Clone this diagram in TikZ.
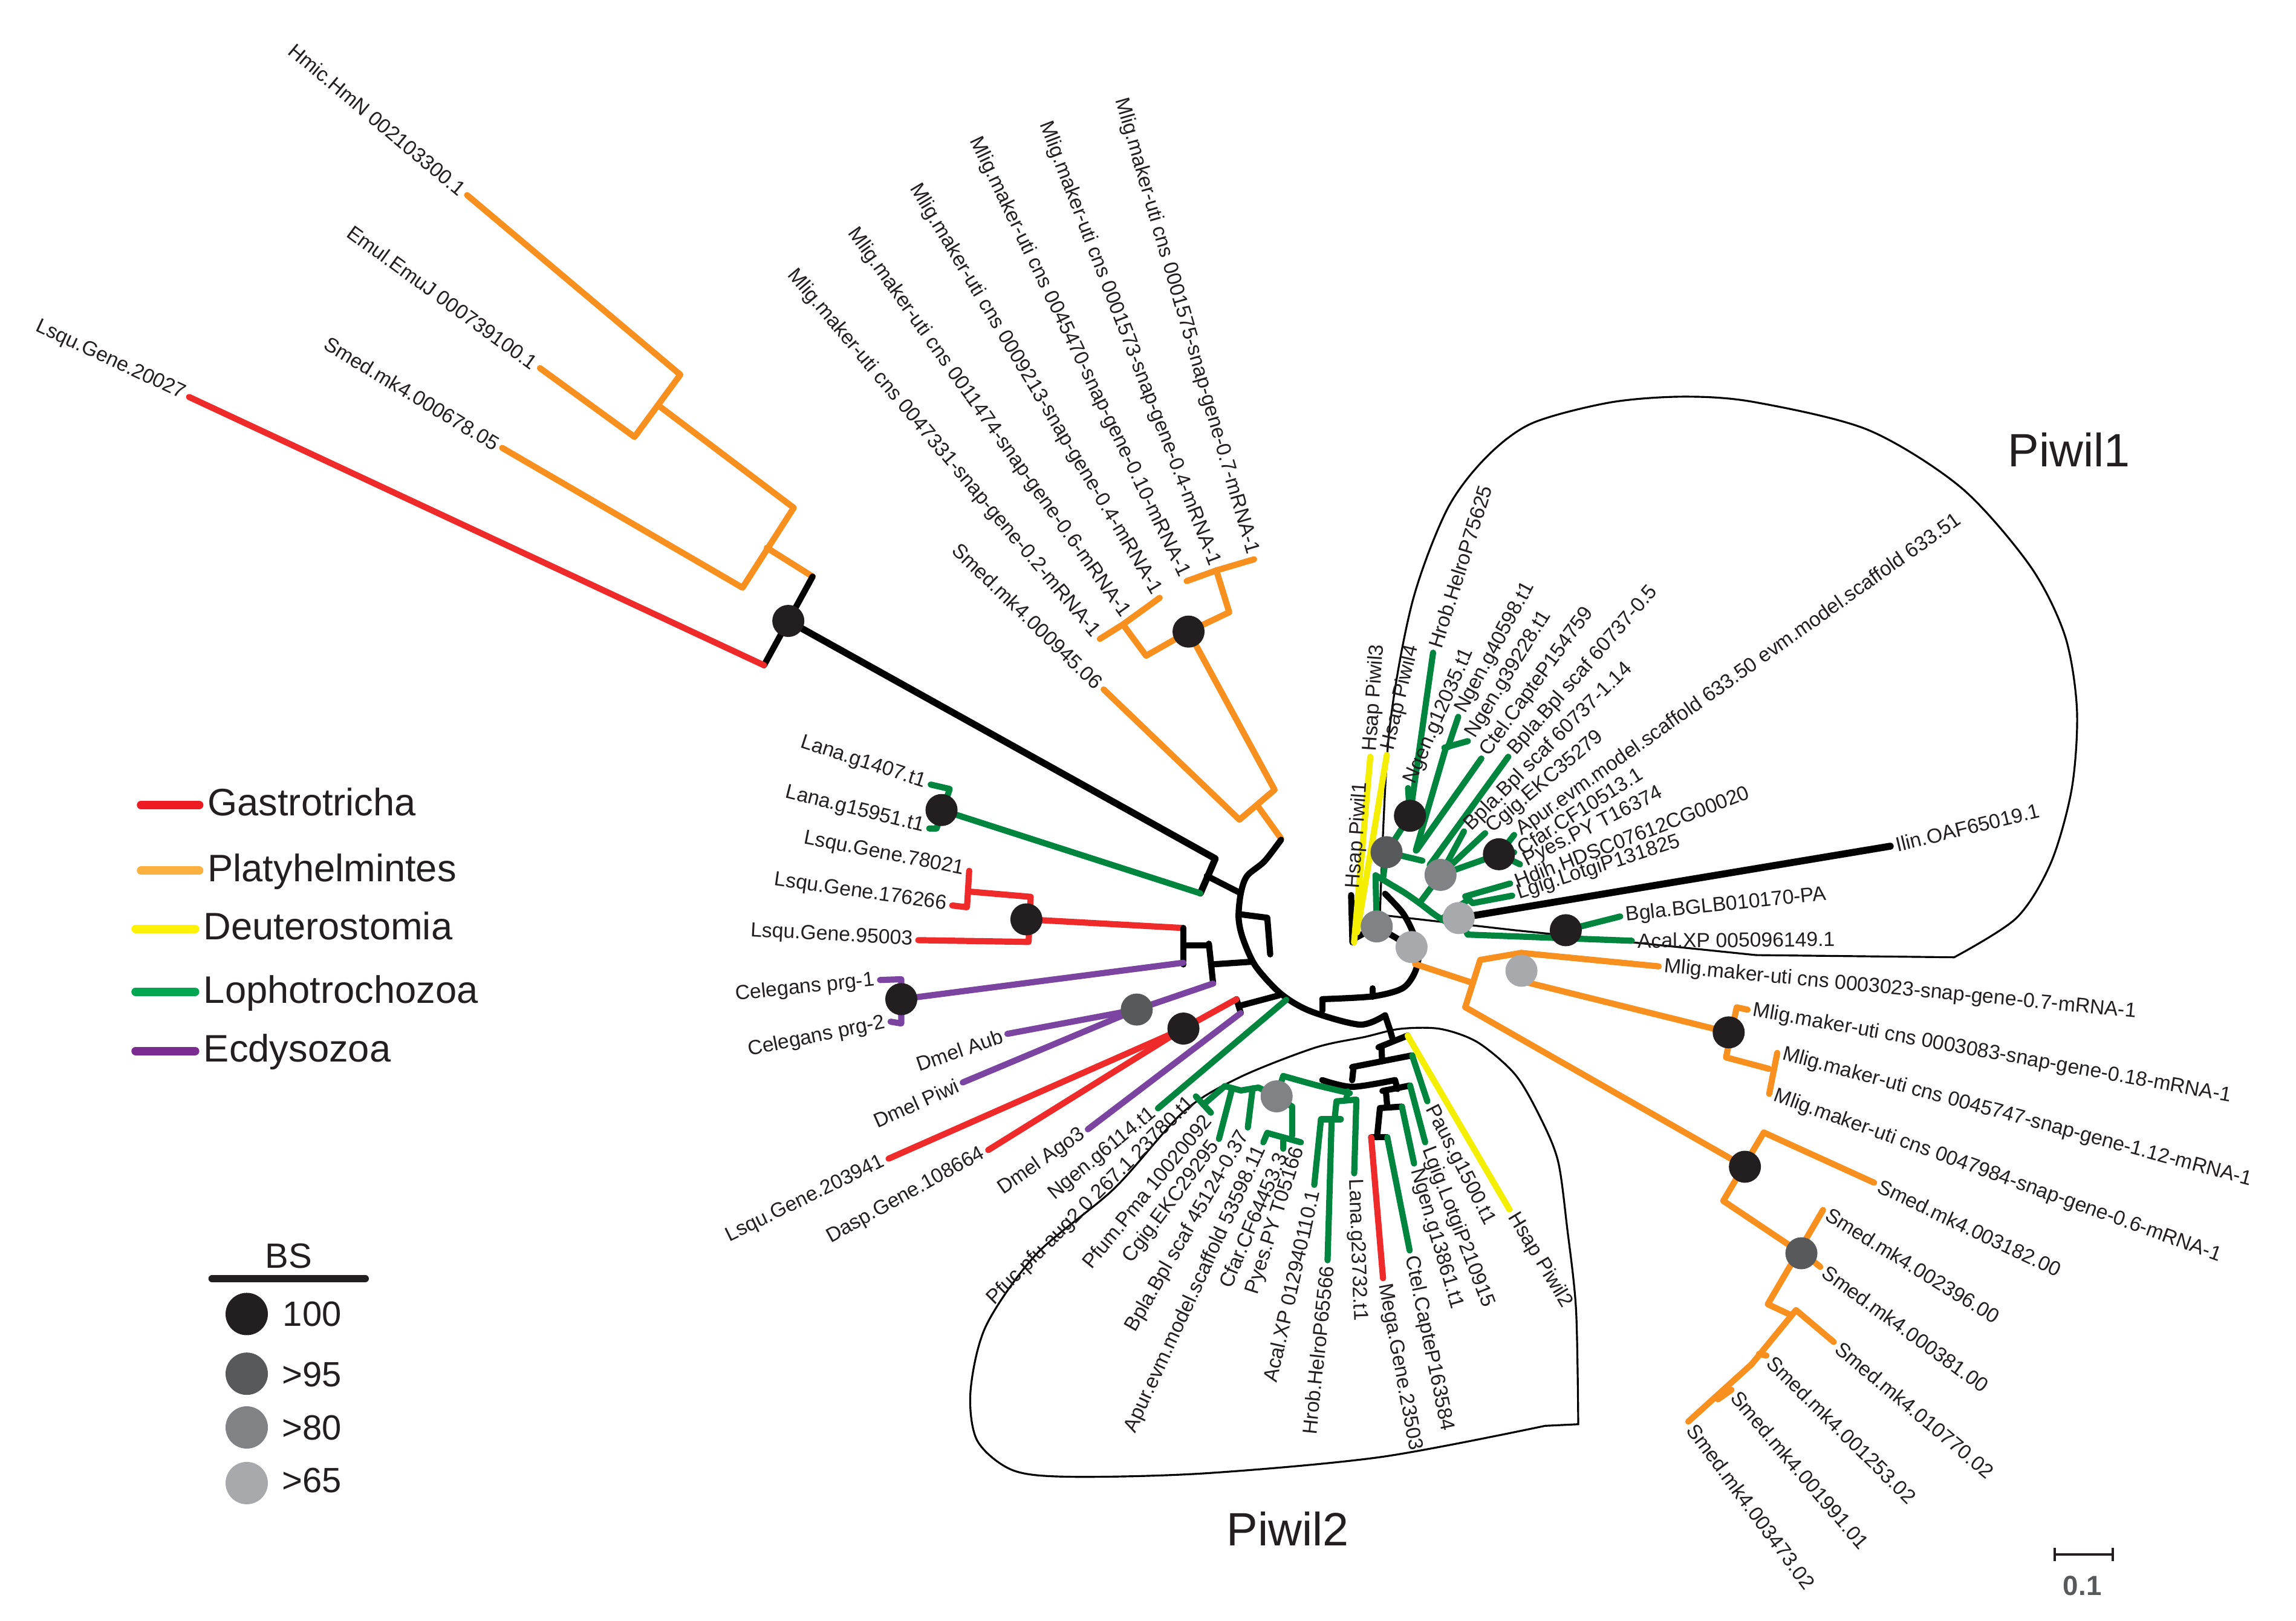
\documentclass[tikz,border=0pt]{standalone}
\usepackage{fontspec}
\setmainfont{Liberation Sans}
\definecolor{cred}{HTML}{EE2A2A}
\definecolor{corange}{HTML}{F7901E}
\definecolor{cyellow}{HTML}{F4EE00}
\definecolor{cgreen}{HTML}{00853F}
\definecolor{cpurple}{HTML}{7A44A0}
\definecolor{lred}{HTML}{ED1C24}
\definecolor{lorange}{HTML}{FBB040}
\definecolor{lyellow}{HTML}{FFF200}
\definecolor{lgreen}{HTML}{00A651}
\definecolor{lpurple}{HTML}{7B2C8F}
\definecolor{bsA}{HTML}{231F20}
\definecolor{bsB}{HTML}{58595B}
\definecolor{bsC}{HTML}{808285}
\definecolor{bsD}{HTML}{A7A9AC}
\definecolor{scalegray}{HTML}{58595B}
\begin{document}
\begin{tikzpicture}[x=0.0242cm,y=-0.0242cm,
  br/.style={line width=2.9pt,line cap=round,line join=round},
  kb/.style={br,draw=black},
  rb/.style={br,draw=cred},
  ob/.style={br,draw=corange},
  yb/.style={br,draw=cyellow},
  gb/.style={br,draw=cgreen},
  pb/.style={br,draw=cpurple},
  encl/.style={draw=black,line width=0.9pt},
  lbl/.style={font=\fontsize{9.6}{11}\selectfont,inner xsep=2.5pt,inner ysep=0.5pt,text=bsA},
  le/.style={lbl,anchor=east},
  lw/.style={lbl,anchor=west},
  bsnode/.style={circle,inner sep=0pt,minimum size=0.53cm},
  b100/.style={bsnode,fill=bsA},
  b95/.style={bsnode,fill=bsB},
  b80/.style={bsnode,fill=bsC},
  b65/.style={bsnode,fill=bsD},
  bsleg/.style={circle,inner sep=0pt,minimum size=0.70cm},
  legline/.style={line width=4pt,line cap=round},
  legtxt/.style={font=\fontsize{18}{20}\selectfont,anchor=base west,inner sep=0pt,text=bsA},
  bstxt/.style={font=\fontsize{16.5}{18}\selectfont,anchor=base west,inner sep=0pt,text=bsA},
  cladetxt/.style={font=\fontsize{22}{24}\selectfont,anchor=base west,inner sep=0pt,text=bsA}
]
\fill[white] (0,0) rectangle (1569,1107.4);
\useasboundingbox (0,0) rectangle (1569,1107.4);

% ---------- enclosures ----------
\draw[encl] plot[smooth] coordinates {(943,625) (949,503) (964.8,412.6) (988.6,348.6) (1015,313) (1046.6,289.3) (1100,275) (1150,271) (1198.3,274.6) (1276.3,293.6) (1340.1,333.1) (1387.4,386.8) (1411.1,434.3) (1419.3,484.9) (1415.8,538.6) (1401.6,589.2) (1378,627.1) (1335.4,654)} -- (1200,652.5) -- (1036,635.6) -- cycle;
\draw[encl] plot[smooth] coordinates {(1078.5,973) (1077,894.6) (1070.9,838.6) (1064.7,793.3) (1052.7,763.7) (1035.5,734.2) (1009.8,712.1) (984.1,702.9) (956.7,702.9) (932.7,708.4) (898.5,715.8) (847.1,736) (808.7,759.6) (761.7,811.7) (708,857) (673.8,905.8) (663.2,950.6) (667.8,984.2) (692,1004.4) (731.4,1008.9) (822.4,1006.6) (943.6,995.4) (1055.8,974.1)} -- cycle;

% ---------- coordinates: bootstrap nodes ----------
\coordinate (cA) at (538.7,424.2);
\coordinate (cB) at (812.2,431.5);
\coordinate (cLana) at (643.4,553.4);
\coordinate (cLsqu) at (701.4,628.1);
\coordinate (cCel) at (615.9,682.6);
\coordinate (cDmel) at (776.8,689.7);
\coordinate (cLD) at (808.7,702.7);
\coordinate (cP2) at (872.4,749);
\coordinate (cP1a) at (963.5,557.3);
\coordinate (cP1b) at (947.5,582.2);
\coordinate (cP1c) at (984.4,597.7);
\coordinate (cP1d) at (1024.3,583.6);
\coordinate (cP1e) at (996.8,627.2);
\coordinate (cP1f) at (940.8,632.9);
\coordinate (cP1g) at (964.6,647);
\coordinate (cP1h) at (1070,635.5);
\coordinate (cM1) at (1039.7,663.2);
\coordinate (cM2) at (1181.3,705.3);
\coordinate (cS1) at (1192.4,797.1);
\coordinate (cS2) at (1231,856.2);

% ---------- coordinates: tips ----------
\coordinate (tHmic) at (319.2,133.3);
\coordinate (tEmul) at (369,251.5);
\coordinate (tSmA) at (343.2,306);
\coordinate (tLsA) at (129.2,271.2);
\coordinate (tM1) at (857,382.1);
\coordinate (tM2) at (831.2,389.7);
\coordinate (tM3) at (810.9,397);
\coordinate (tM4) at (792.5,408.4);
\coordinate (tM5) at (771.5,423.5);
\coordinate (tM6) at (751.6,436.5);
\coordinate (tSmB) at (754.2,471);
\coordinate (tLa1) at (636,536);
\coordinate (tLa2) at (635,566);
\coordinate (tLs1) at (662.3,594.9);
\coordinate (tLs2) at (650.7,618.6);
\coordinate (tLs3) at (627.5,642.3);
\coordinate (tCe1) at (601.4,669.5);
\coordinate (tCe2) at (608.6,698);
\coordinate (tDA) at (688.4,706.3);
\coordinate (tDP) at (657.9,739.5);
\coordinate (tLs4) at (607.2,791.6);
\coordinate (tDa) at (675.3,785.7);
\coordinate (tDG) at (743.4,771.5);
\coordinate (tNg6) at (791.3,757.2);
\coordinate (tPfuc) at (817.2,749);
\coordinate (tPfum) at (827.5,760.2);
\coordinate (tCgig2) at (833,778.1);
\coordinate (tBpla2) at (852.7,770.3);
\coordinate (tApur2) at (863.3,780.4);
\coordinate (tCfar2) at (876.9,784.8);
\coordinate (tPyes2) at (889,780.4);
\coordinate (tAcal2) at (898.1,809.5);
\coordinate (tHrob2) at (907.2,861);
\coordinate (tLana3) at (925.4,801.6);
\coordinate (tMega) at (945.1,873.3);
\coordinate (tCtel2) at (963.3,854.3);
\coordinate (tNg13) at (966.3,794.9);
\coordinate (tLgig2) at (973.9,780.4);
\coordinate (tPaus) at (975.4,752.4);
\coordinate (tHs2) at (1031.5,826.3);
\coordinate (tHs1) at (925,611);
\coordinate (tHs3) at (936.4,517);
\coordinate (tHs4) at (947.7,515.8);
\coordinate (tHrob1) at (979.3,445.9);
\coordinate (tNg12) at (962.2,538.4);
\coordinate (tNg40) at (996.5,489.7);
\coordinate (tNg39) at (1003.1,506.3);
\coordinate (tCtel1) at (1012.3,518.2);
\coordinate (tBp05) at (1030.7,517);
\coordinate (tBp114) at (1000.4,568);
\coordinate (tCgig1) at (1014.9,569.2);
\coordinate (tApur1) at (1034.7,570.4);
\coordinate (tCfar1) at (1034.7,582.3);
\coordinate (tPyes1) at (1038.7,590.5);
\coordinate (tHdih) at (1032,603.6);
\coordinate (tLgig1) at (1033.4,611.9);
\coordinate (tBgla) at (1107.2,626.1);
\coordinate (tAcal1) at (1115.1,642.7);
\coordinate (tIlin) at (1291.7,578.1);
\coordinate (tR1) at (1133.5,660.2);
\coordinate (tR2) at (1194.2,689.8);
\coordinate (tR3) at (1214.5,719.3);
\coordinate (tR4) at (1209,747.3);
\coordinate (tS3182) at (1280.7,808);
\coordinate (tS2396) at (1245.8,826.6);
\coordinate (tS381) at (1243.9,865.5);
\coordinate (tS10770) at (1253.1,916.8);
\coordinate (tS1253) at (1207.1,926.1);
\coordinate (tS1991) at (1183.2,949.5);
\coordinate (tS3473) at (1153.7,971.2);

% ---------- clade A (top left) ----------
\draw[ob] (tHmic) -- (464.9,256) -- (433.6,298.5) -- (tEmul);
\draw[ob] (450.2,277.2) -- (542.4,346.9) -- (507.4,401.5) -- (tSmA);
\draw[ob] (524,374.2) -- (555.3,393.9);
\draw[kb] (555.3,393.9) -- (522.1,454.5);
\draw[rb] (522.1,454.5) -- (tLsA);
\draw[kb,line width=3.2pt] (cA) -- (830.5,586.6) -- (820.3,610.3);
\draw[kb] (824.7,598.4) -- (848,610.3);
\draw[gb] (820.3,610.3) -- (cLana);
\draw[gb] (tLa1) -- (649,539) -- (640,566) -- (tLa2);

% ---------- clade B (top centre Mlig) ----------
\draw[ob] (tM1) -- (tM2) -- (tM3);
\draw[ob] (tM2) -- (840,418.3) -- (cB) -- (783.2,448) -- (767.4,426.6);
\draw[ob] (tM6) -- (767.4,426.6) -- (tM4);
\draw[ob] (cB) -- (871,539.6) -- (847,560) -- (tSmB);
\draw[ob] (859,550) -- (875.4,572.8);

% ---------- backbone ----------
\draw[kb] plot[smooth] coordinates {(875.4,573.7) (864,588.5) (852.2,598.4) (847.9,610.3) (846.4,626.9) (849.3,641) (858,660) (875.4,679) (895.7,690.9) (929.3,700) (946.5,693.6)};
\draw[kb] plot[smooth] coordinates {(946.5,610.6) (958.4,623.5) (965.3,636.4) (969.6,650) (967,664) (958.4,675.2) (937.9,680.7) (903.6,682.6)};
\draw[kb] (903.6,682.6) -- (903.6,690.5);
\draw[kb] (937.9,675.2) -- (937.9,681);
\draw[kb] (846.5,624.5) -- (866,627) -- (868,652);

% ---------- left groups ----------
\draw[rb] (cLsqu) -- (808.7,634);
\draw[rb] (704.3,612.7) -- (702.9,643.5) -- (tLs3);
\draw[rb] (704.3,612.7) -- (662.3,609.1);
\draw[rb] (tLs1) -- (660.8,619.8) -- (tLs2);
\draw[kb] (808.7,634) -- (808.7,658.9);
\draw[kb] (808.7,645.8) -- (826.1,645.8);
\draw[kb] (826.1,644.7) -- (829,671.9);
\draw[kb] (827.5,658.9) -- (856,657);
\draw[pb] (808.7,657.7) -- (cCel);
\draw[pb] (tCe1) -- (615.9,669) -- (615.9,699.2) -- (tCe2);
\draw[pb] (829,671.9) -- (cDmel) -- (tDA);
\draw[pb] (cDmel) -- (tDP);
\draw[kb] (845,682.6) -- (847.9,692.1);
\draw[kb] (846.5,687.3) -- (874,680);
\draw[rb] (845,682.6) -- (cLD) -- (tLs4);
\draw[rb] (cLD) -- (tDa);
\draw[pb] (847.9,692.1) -- (tDG);
\draw[gb] (879,683) -- (tNg6);

% ---------- Piwil2 ----------
\draw[kb] (946.5,693.6) -- (950,704) -- (952,711);
\draw[kb] (942,715.5) -- (961.9,707.5);
\draw[kb] (944,715) -- (944.5,725);
\draw[kb] (924,729) -- (965,721);
\draw[kb] (925,728.8) -- (924,738);
\draw[kb] plot[smooth] coordinates {(903.6,737.9) (924,742.5) (953.3,737.9)};
\draw[kb] (953.3,737.9) -- (955,744);
\draw[kb] (944.7,745.3) -- (963.6,741.6);
\draw[kb] (947,744.8) -- (948,756);
\draw[kb] (943,757) -- (958,756);
\draw[kb] (943,757) -- (941,777);
\draw[kb] (937,777) -- (948,777);
\draw[yb] (961.9,707.5) -- (tHs2);
\draw[gb] (965,721) -- (tPaus);
\draw[gb] (963.6,741.6) -- (tLgig2);
\draw[gb] (958,756) -- (tNg13);
\draw[rb] (937,777) -- (tMega);
\draw[gb] (948,777) -- (tCtel2);
\draw[gb] plot[smooth] coordinates {(876.9,735.1) (900,741.5) (922.4,746.8)};
\draw[gb] (920.9,745.6) -- (920,751.8);
\draw[gb] (913.3,752.4) -- (926.9,751.2) -- (tLana3);
\draw[gb] (913.3,752.4) -- (912,764.7);
\draw[gb] (902.7,764.7) -- (916.3,764.7);
\draw[gb] (902.7,764.7) -- (tAcal2);
\draw[gb] (910,764.7) -- (tHrob2);
\draw[gb] (876.9,735.1) -- (cP2);
\draw[gb] (cP2) -- (860,743) -- (848,745) -- (837,742) -- (822.4,754.6);
\draw[gb] (tPfuc) -- (tPfum);
\draw[gb] (842,743.5) -- (tCgig2);
\draw[gb] (856,743.5) -- (tBpla2);
\draw[gb] (cP2) -- (883,756) -- (883,776);
\draw[gb] (866,774) -- (tPyes2);
\draw[gb] (866,774) -- (tApur2);
\draw[gb] (877,777) -- (tCfar2);

% ---------- Piwil1 ----------
\draw[kb] (923.3,611.5) -- (924.2,643.8);
\draw[kb] (924.2,642) -- (cP1f);
\draw[kb] (cP1f) -- (cP1g);
\draw[yb] (925.3,643.9) -- (tHs3);
\draw[yb] (927.4,637) -- (tHs4);
\draw[gb] (tHrob1) -- (cP1a);
\draw[gb] (tNg12) -- (cP1a) -- (cP1b);
\draw[gb] (tNg40) -- (989.5,510.5);
\draw[gb] (987,510.8) -- (tNg39);
\draw[gb] (988,511) -- (967.5,581);
\draw[gb] (tCtel1) -- (968,581);
\draw[gb] (cP1b) -- (972,588);
\draw[gb] (tBp05) -- (977,591);
\draw[gb] (tBp114) -- (cP1c) -- (tCgig1);
\draw[gb] (cP1c) -- (cP1d);
\draw[gb] (tApur1) -- (cP1d) -- (tCfar1);
\draw[gb] (cP1d) -- (tPyes1);
\draw[gb] (tHdih) -- (1001.3,612.4) -- (1006.4,617) -- (tLgig1);
\draw[gb] (1003.5,614.5) -- (985,628);
\draw[gb] plot[smooth] coordinates {(940,598) (950,604) (960,610) (970,617) (982,626) (994,633)};
\draw[gb] (cP1c) -- (970,617);
\draw[gb] (cP1b) -- (945,601);
\draw[gb] (cP1f) -- (940,598);
\draw[gb] (cP1e) -- (1003,638.5) -- (tAcal1);
\draw[gb] (cP1h) -- (tBgla);
\draw[kb,line width=3.3pt] (cP1e) -- (tIlin);

% ---------- right orange ----------
\draw[ob] (967,658.6) -- (1006.4,671.5);
\draw[ob] (1001.3,688.1) -- (1011.5,655.8) -- (1039.6,651) -- (tR1);
\draw[ob] (1039.6,651) -- (1043.2,671.1) -- (cM2);
\draw[ob] (1186.8,688.2) -- (tR2);
\draw[ob] (1186.8,688.2) -- (1179.5,722.4) -- (1208.9,730.2);
\draw[ob] (tR3) -- (tR4);
\draw[ob] (1001.3,688.1) -- (cS1);
\draw[ob] (1205.3,773.7) -- (1177.6,820.4) -- (cS2);
\draw[ob] (1205.3,773.7) -- (tS3182);
\draw[ob] (tS2396) -- (1208,891) -- (1224,898.5);
\draw[ob] (1236,859) -- (tS381);
\draw[ob] (tS10770) -- (1227.3,895) -- (1197,932) -- (tS3473);
\draw[ob] (1202,925) -- (tS1253);
\draw[ob] (1174,956) -- (tS1991);

% ---------- bootstrap circles ----------
\node[b100] (nA) at (cA) {};
\node[b100] (nB) at (cB) {};
\node[b100] (nLana) at (cLana) {};
\node[b100] (nLsqu) at (cLsqu) {};
\node[b100] (nCel) at (cCel) {};
\node[b95] (nDmel) at (cDmel) {};
\node[b100] (nLD) at (cLD) {};
\node[b80] (nP2) at (cP2) {};
\node[b100] (nP1a) at (cP1a) {};
\node[b95] (nP1b) at (cP1b) {};
\node[b80] (nP1c) at (cP1c) {};
\node[b100] (nP1d) at (cP1d) {};
\node[b65] (nP1e) at (cP1e) {};
\node[b80] (nP1f) at (cP1f) {};
\node[b65] (nP1g) at (cP1g) {};
\node[b100] (nP1h) at (cP1h) {};
\node[b65] (nM1) at (cM1) {};
\node[b100] (nM2) at (cM2) {};
\node[b100] (nS1) at (cS1) {};
\node[b95] (nS2) at (cS2) {};

% ---------- tip labels ----------
\node[le,rotate=-40] (lHmic) at (tHmic) {Hmic.HmN 002103300.1};
\node[le,rotate=-36] (lEmul) at (tEmul) {Emul.EmuJ 000739100.1};
\node[le,rotate=-31] (lSmA) at (tSmA) {Smed.mk4.000678.05};
\node[le,rotate=-25] (lLsA) at (tLsA) {Lsqu.Gene.20027};
\node[le,rotate=-73.8] (lM1) at (tM1) {Mlig.maker-uti cns 0001575-snap-gene-0.7-mRNA-1};
\node[le,rotate=-69] (lM2) at (tM2) {Mlig.maker-uti cns 0001573-snap-gene-0.4-mRNA-1};
\node[le,rotate=-64.4] (lM3) at (tM3) {Mlig.maker-uti cns 0045470-snap-gene-0.10-mRNA-1};
\node[le,rotate=-59.2] (lM4) at (tM4) {Mlig.maker-uti cns 0009213-snap-gene-0.4-mRNA-1};
\node[le,rotate=-54.6] (lM5) at (tM5) {Mlig.maker-uti cns 0011474-snap-gene-0.6-mRNA-1};
\node[le,rotate=-49.9] (lM6) at (tM6) {Mlig.maker-uti cns 0047331-snap-gene-0.2-mRNA-1};
\node[le,rotate=-44] (lSmB) at (tSmB) {Smed.mk4.000945.06};
\node[le,rotate=-18] (lLa1) at (tLa1) {Lana.g1407.t1};
\node[le,rotate=-14] (lLa2) at (tLa2) {Lana.g15951.t1};
\node[le,rotate=-11] (lLs1) at (tLs1) {Lsqu.Gene.78021};
\node[le,rotate=-8] (lLs2) at (tLs2) {Lsqu.Gene.176266};
\node[le,rotate=-3] (lLs3) at (tLs3) {Lsqu.Gene.95003};
\node[le,rotate=6] (lCe1) at (tCe1) {Celegans prg-1};
\node[le,rotate=11.5] (lCe2) at (tCe2) {Celegans prg-2};
\node[le,rotate=19] (lDA) at (tDA) {Dmel Aub};
\node[le,rotate=24] (lDP) at (tDP) {Dmel Piwi};
\node[le,rotate=26] (lLs4) at (tLs4) {Lsqu.Gene.203941};
\node[le,rotate=29] (lDa) at (tDa) {Dasp.Gene.108664};
\node[le,rotate=35] (lDG) at (tDG) {Dmel Ago3};
\node[le,rotate=39.5] (lNg6) at (tNg6) {Ngen.g6114.t1};
\node[le,rotate=45] (lPfuc) at (tPfuc) {Pfuc.pfu aug2.0 267.1 23780.t1};
\node[le,rotate=50.7] (lPfum) at (tPfum) {Pfum.Pma 10020092};
\node[le,rotate=53] (lCgig2) at (tCgig2) {Cgig.EKC29295};
\node[le,rotate=60] (lBpla2) at (tBpla2) {Bpla.Bpl scaf 45124-0.37};
\node[le,rotate=65.3] (lApur2) at (tApur2) {Apur.evm.model.scaffold 53598.11};
\node[le,rotate=67] (lCfar2) at (tCfar2) {Cfar.CF64453.3};
\node[le,rotate=72.3] (lPyes2) at (tPyes2) {Pyes.PY T05166};
\node[le,rotate=77.3] (lAcal2) at (tAcal2) {Acal.XP 012940110.1};
\node[le,rotate=84] (lHrob2) at (tHrob2) {Hrob.HelroP65566};
\node[lw,rotate=-88] (lLana3) at (tLana3) {Lana.g23732.t1};
\node[lw,rotate=-79.5] (lMega) at (tMega) {Mega.Gene.23503};
\node[lw,rotate=-78.3] (lCtel2) at (tCtel2) {Ctel.CapteP163584};
\node[lw,rotate=-73.6] (lNg13) at (tNg13) {Ngen.g13861.t1};
\node[lw,rotate=-69] (lLgig2) at (tLgig2) {Lgig.LotgiP210915};
\node[lw,rotate=-63] (lPaus) at (tPaus) {Paus.g1500.t1};
\node[lw,rotate=-59] (lHs2) at (tHs2) {Hsap Piwil2};
\node[lw,rotate=86] (lHs1) at (tHs1) {Hsap Piwil1};
\node[lw,rotate=86] (lHs3) at (tHs3) {Hsap Piwil3};
\node[lw,rotate=76.5] (lHs4) at (tHs4) {Hsap Piwil4};
\node[lw,rotate=72.5] (lHrob1) at (tHrob1) {Hrob.HelroP75625};
\node[lw,rotate=66.3] (lNg12) at (tNg12) {Ngen.g12035.t1};
\node[lw,rotate=61.6] (lNg40) at (tNg40) {Ngen.g40598.t1};
\node[lw,rotate=58.4] (lNg39) at (tNg39) {Ngen.g39228.t1};
\node[lw,rotate=54] (lCtel1) at (tCtel1) {Ctel.CapteP154759};
\node[lw,rotate=49] (lBp05) at (tBp05) {Bpla.Bpl scaf 60737-0.5};
\node[lw,rotate=45] (lBp114) at (tBp114) {Bpla.Bpl scaf 60737-1.14};
\node[lw,rotate=40.5] (lCgig1) at (tCgig1) {Cgig.EKC35279};
\node[lw,rotate=35.4] (lApur1) at (tApur1) {Apur.evm.model.scaffold 633.50 evm.model.scaffold 633.51};
\node[lw,rotate=32.5] (lCfar1) at (tCfar1) {Cfar.CF10513.1};
\node[lw,rotate=27] (lPyes1) at (tPyes1) {Pyes.PY T16374};
\node[lw,rotate=21.2] (lHdih) at (tHdih) {Hdih.HDSC07612CG00020};
\node[lw,rotate=18] (lLgig1) at (tLgig1) {Lgig.LotgiP131825};
\node[lw,rotate=6] (lBgla) at (tBgla) {Bgla.BGLB010170-PA};
\node[lw,rotate=0.5] (lAcal1) at (tAcal1) {Acal.XP 005096149.1};
\node[lw,rotate=13.6] (lIlin) at (tIlin) {Ilin.OAF65019.1};
\node[lw,rotate=-5.5] (lR1) at (tR1) {Mlig.maker-uti cns 0003023-snap-gene-0.7-mRNA-1};
\node[lw,rotate=-10.2] (lR2) at (tR2) {Mlig.maker-uti cns 0003083-snap-gene-0.18-mRNA-1};
\node[lw,rotate=-15.1] (lR3) at (tR3) {Mlig.maker-uti cns 0045747-snap-gene-1.12-mRNA-1};
\node[lw,rotate=-19.8] (lR4) at (tR4) {Mlig.maker-uti cns 0047984-snap-gene-0.6-mRNA-1};
\node[lw,rotate=-25.3] (lS3182) at (tS3182) {Smed.mk4.003182.00};
\node[lw,rotate=-31.8] (lS2396) at (tS2396) {Smed.mk4.002396.00};
\node[lw,rotate=-36] (lS381) at (tS381) {Smed.mk4.000381.00};
\node[lw,rotate=-40] (lS10770) at (tS10770) {Smed.mk4.010770.02};
\node[lw,rotate=-44.6] (lS1253) at (tS1253) {Smed.mk4.001253.02};
\node[lw,rotate=-49.5] (lS1991) at (tS1991) {Smed.mk4.001991.01};
\node[lw,rotate=-53.5] (lS3473) at (tS3473) {Smed.mk4.003473.02};

% ---------- clade names ----------
\node[cladetxt] (piwil1) at (1372,318.9) {Piwil1};
\node[cladetxt] (piwil2) at (838,1056) {Piwil2};

% ---------- colour legend ----------
\coordinate (g1a) at (96.4,549.9); \coordinate (g1b) at (136.1,549.9);
\coordinate (g2a) at (96.4,594.8); \coordinate (g2b) at (136.1,594.8);
\coordinate (g3a) at (92.7,634.7); \coordinate (g3b) at (133.3,634.7);
\coordinate (g4a) at (92.7,677.5); \coordinate (g4b) at (133.3,677.5);
\coordinate (g5a) at (92.7,718); \coordinate (g5b) at (133.3,718);
\draw[legline,draw=lred] (g1a) -- (g1b);
\draw[legline,draw=lorange] (g2a) -- (g2b);
\draw[legline,draw=lyellow] (g3a) -- (g3b);
\draw[legline,draw=lgreen] (g4a) -- (g4b);
\draw[legline,draw=lpurple] (g5a) -- (g5b);
\node[legtxt] (lg1) at (141.6,557.1) {Gastrotricha};
\node[legtxt] (lg2) at (141.6,602.1) {Platyhelmintes};
\node[legtxt] (lg3) at (138.9,641.9) {Deuterostomia};
\node[legtxt] (lg4) at (138.9,685.4) {Lophotrochozoa};
\node[legtxt] (lg5) at (138.9,725.3) {Ecdysozoa};

% ---------- BS legend ----------
\node[bstxt] (bsT) at (181,866.5) {BS};
\coordinate (bsLa) at (144.9,873.5); \coordinate (bsLb) at (249.6,873.5);
\draw[line width=3.4pt,line cap=round,draw=bsA] (bsLa) -- (bsLb);
\node[bsleg,fill=bsA] (k1) at (168.6,897.7) {};
\node[bsleg,fill=bsB] (k2) at (168.6,938.5) {};
\node[bsleg,fill=bsC] (k3) at (168.6,975.2) {};
\node[bsleg,fill=bsD] (k4) at (168.6,1013.2) {};
\node[bstxt] (kt1) at (193,906) {100};
\node[bstxt] (kt2) at (192.4,947.5) {>95};
\node[bstxt] (kt3) at (192.4,983.5) {>80};
\node[bstxt] (kt4) at (192.4,1019.5) {>65};

% ---------- scale bar ----------
\coordinate (sbA) at (1404.1,1062); \coordinate (sbB) at (1443.8,1062);
\draw[line width=0.9pt,draw=bsA] (sbA) -- (sbB);
\draw[line width=0.9pt,draw=bsA] (1404.1,1057.5) -- (1404.1,1066.5);
\draw[line width=0.9pt,draw=bsA] (1443.8,1057.5) -- (1443.8,1066.5);
\node[font=\bfseries\fontsize{13}{14}\selectfont,text=scalegray,anchor=base,inner sep=0pt] (sbT) at (1423,1089.7) {0.1};
\end{tikzpicture}
\end{document}
